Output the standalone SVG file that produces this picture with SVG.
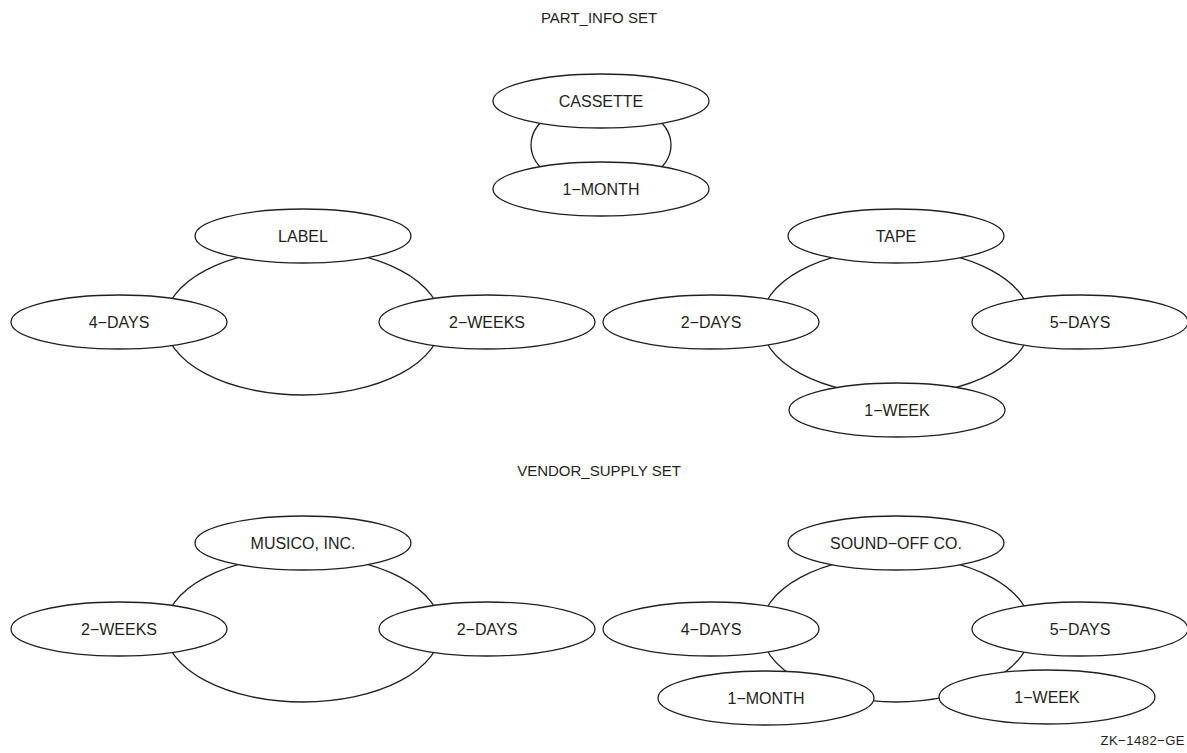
<svg xmlns="http://www.w3.org/2000/svg" width="1187" height="753" viewBox="0 0 1187 753">
<style>
.ring{fill:none;stroke:#231f20;stroke-width:1.3}
.node ellipse{fill:#fff;stroke:#231f20;stroke-width:1.3}
.node text{font-family:"Liberation Sans",Arial,sans-serif;font-size:16px;fill:#231f20;text-anchor:middle}
.title{font-family:"Liberation Sans",Arial,sans-serif;font-size:15px;fill:#231f20;text-anchor:middle}
</style>
<rect width="1187" height="753" fill="#fff"/>
<text class="title" x="599" y="23">PART_INFO SET</text>
<text class="title" x="599" y="476">VENDOR_SUPPLY SET</text>
<text x="1185" y="745" font-family="Liberation Sans, Arial, sans-serif" font-size="13" fill="#231f20" text-anchor="end" letter-spacing="0.5">ZK−1482−GE</text>
<g id="connectors">
<ellipse class="ring" cx="601" cy="145" rx="70" ry="44"/>
<ellipse class="ring" cx="303" cy="322" rx="138" ry="73"/>
<ellipse class="ring" cx="896" cy="322" rx="135" ry="73"/>
<ellipse class="ring" cx="303" cy="629" rx="138" ry="73"/>
<ellipse class="ring" cx="896" cy="629" rx="135" ry="73"/>
</g>
<g id="cassette" class="node"><ellipse cx="601" cy="101" rx="108" ry="27"/><text x="601" y="107">CASSETTE</text></g>
<g id="cassette-1-month" class="node"><ellipse cx="601" cy="189" rx="108" ry="27"/><text x="601" y="195">1−MONTH</text></g>
<g id="label" class="node"><ellipse cx="303" cy="236" rx="108" ry="27"/><text x="303" y="242">LABEL</text></g>
<g id="label-4-days" class="node"><ellipse cx="119" cy="322" rx="108" ry="27"/><text x="119" y="328">4−DAYS</text></g>
<g id="label-2-weeks" class="node"><ellipse cx="487" cy="322" rx="108" ry="27"/><text x="487" y="328">2−WEEKS</text></g>
<g id="tape" class="node"><ellipse cx="896" cy="236" rx="108" ry="27"/><text x="896" y="242">TAPE</text></g>
<g id="tape-2-days" class="node"><ellipse cx="711" cy="322" rx="108" ry="27"/><text x="711" y="328">2−DAYS</text></g>
<g id="tape-5-days" class="node"><ellipse cx="1080" cy="322" rx="108" ry="27"/><text x="1080" y="328">5−DAYS</text></g>
<g id="tape-1-week" class="node"><ellipse cx="897" cy="410" rx="108" ry="27"/><text x="897" y="416">1−WEEK</text></g>
<g id="musico" class="node"><ellipse cx="303" cy="543" rx="108" ry="27"/><text x="303" y="549">MUSICO, INC.</text></g>
<g id="musico-2-weeks" class="node"><ellipse cx="119" cy="629" rx="108" ry="27"/><text x="119" y="635">2−WEEKS</text></g>
<g id="musico-2-days" class="node"><ellipse cx="487" cy="629" rx="108" ry="27"/><text x="487" y="635">2−DAYS</text></g>
<g id="soundoff" class="node"><ellipse cx="896" cy="543" rx="108" ry="27"/><text x="896" y="549">SOUND−OFF CO.</text></g>
<g id="soundoff-4-days" class="node"><ellipse cx="711" cy="629" rx="108" ry="27"/><text x="711" y="635">4−DAYS</text></g>
<g id="soundoff-5-days" class="node"><ellipse cx="1080" cy="629" rx="108" ry="27"/><text x="1080" y="635">5−DAYS</text></g>
<g id="soundoff-1-month" class="node"><ellipse cx="766" cy="698" rx="108" ry="27"/><text x="766" y="704">1−MONTH</text></g>
<g id="soundoff-1-week" class="node"><ellipse cx="1047" cy="697" rx="108" ry="27"/><text x="1047" y="703">1−WEEK</text></g>
</svg>
